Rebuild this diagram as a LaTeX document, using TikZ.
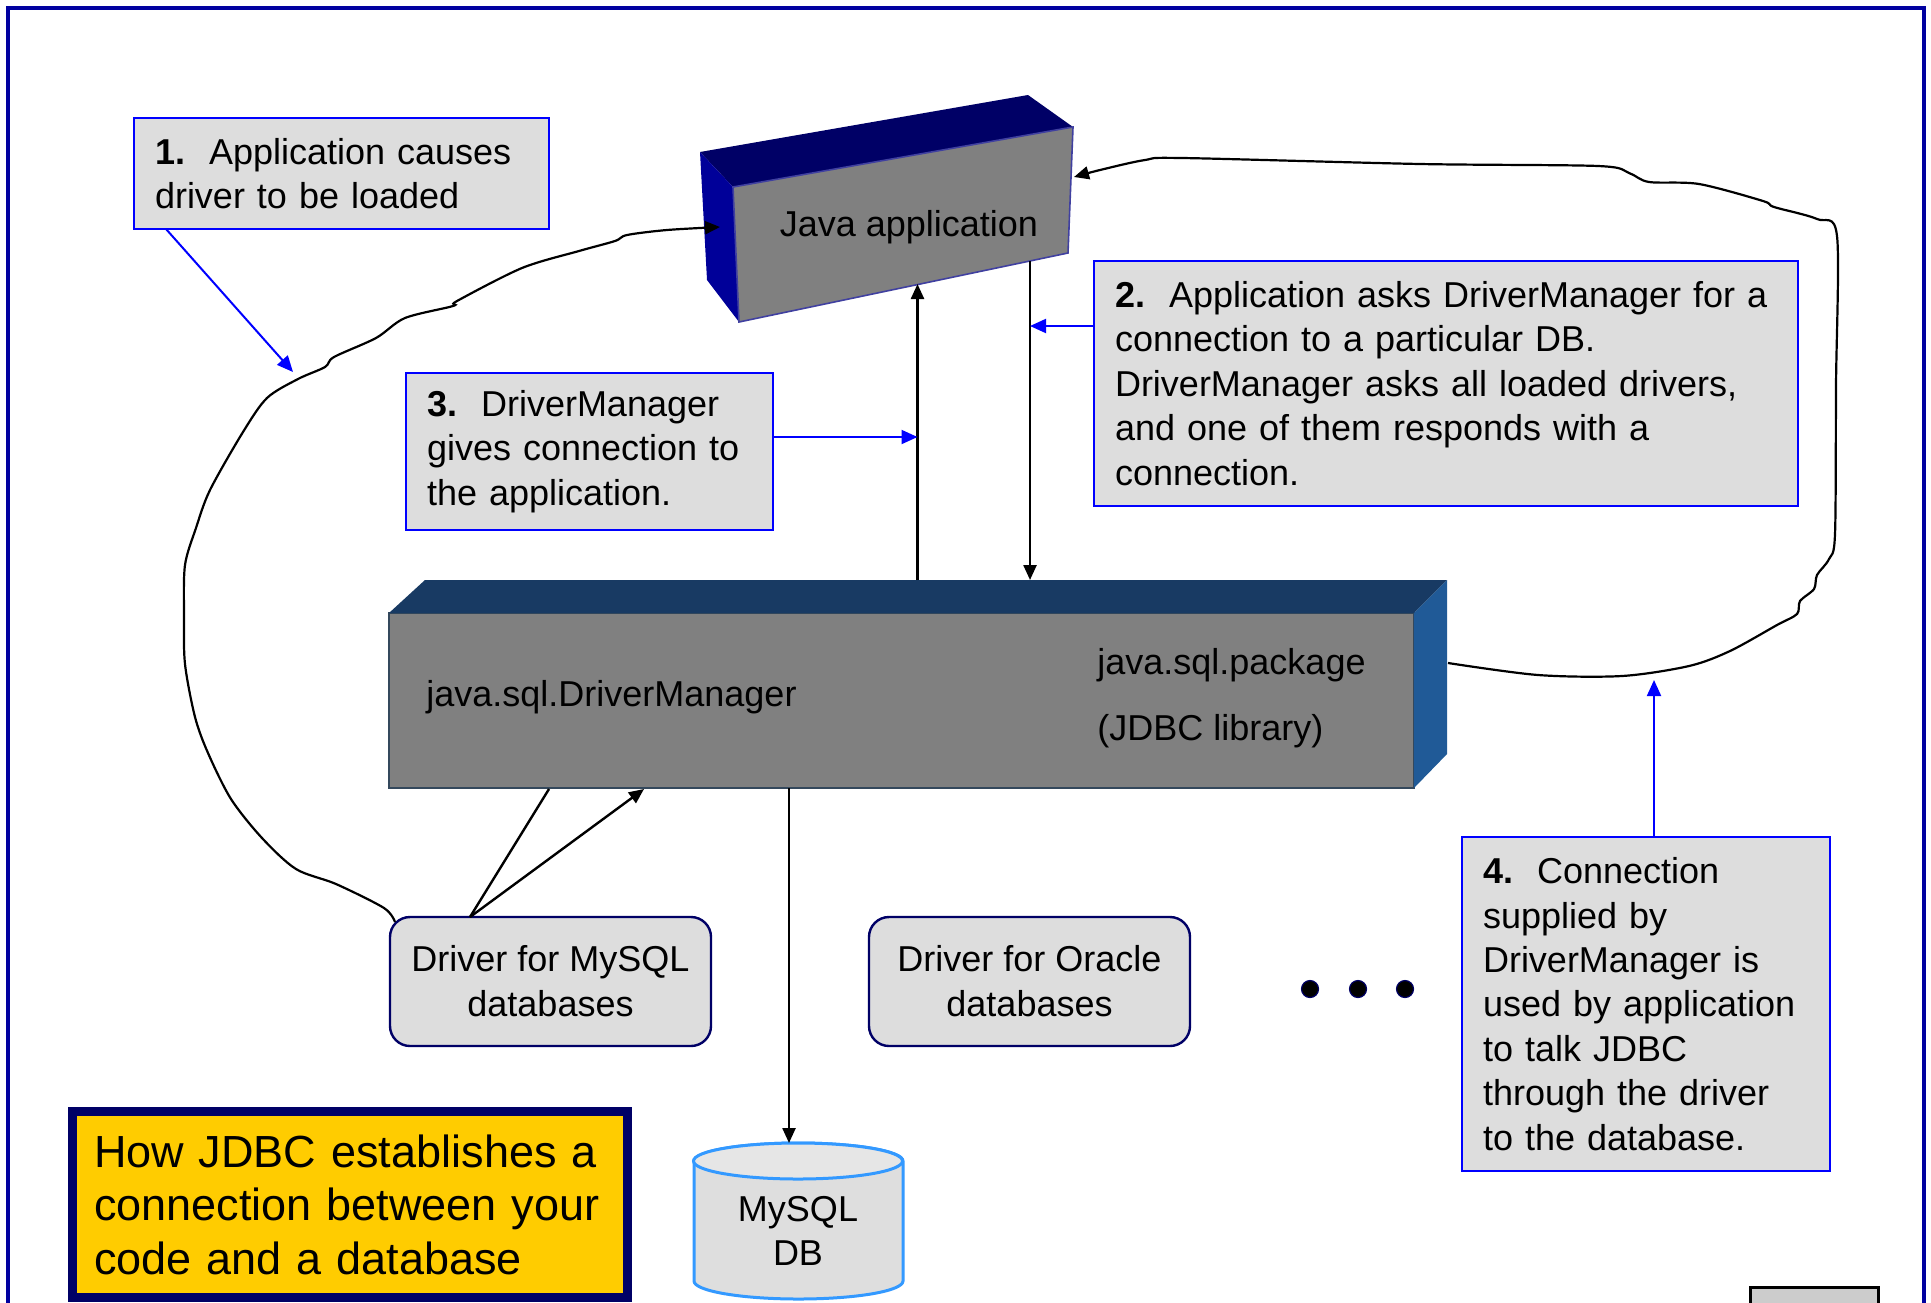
\documentclass[tikz,border=0pt]{standalone}
\usepackage{fontspec}
\setmainfont{Liberation Sans}
\usetikzlibrary{arrows.meta}
\definecolor{framenavy}{HTML}{0000A0}
\definecolor{boxgray}{HTML}{DDDDDD}
\definecolor{stepblue}{HTML}{0000FF}
\definecolor{drvnavy}{HTML}{000066}
\definecolor{appside}{HTML}{000099}
\definecolor{appedge}{HTML}{4040A0}
\definecolor{facegray}{HTML}{808080}
\definecolor{dmtop}{HTML}{183A63}
\definecolor{dmside}{HTML}{205A97}
\definecolor{dmedge}{HTML}{34485C}
\definecolor{titleyellow}{HTML}{FFCC00}
\definecolor{dbblue}{HTML}{3399FF}
\definecolor{dbfill}{HTML}{DEDEDE}
\definecolor{dbtopfill}{HTML}{E6E6E6}
\begin{document}
\begin{tikzpicture}[x=0.5pt,y=-0.5pt,
    stepbox/.style={draw=stepblue,line width=1pt,fill=boxgray,anchor=north west,outer sep=0pt,
      inner xsep=10.5pt,inner ysep=0pt,align=left,font=\fontsize{18}{22.2}\selectfont},
    drvbox/.style={draw=drvnavy,line width=1.2pt,fill=boxgray,rounded corners=10pt,outer sep=0pt,
      anchor=north west,minimum width=160.5pt,minimum height=64.5pt,align=center,
      font=\fontsize{18}{22.4}\selectfont},
    label18/.style={font=\fontsize{18}{22}\selectfont,inner sep=0pt},
    bluearrow/.style={draw=stepblue,line width=1pt,-{Triangle[length=8pt,width=7pt]}},
    blackarrow/.style={line width=1.2pt,-{Triangle[length=7.5pt,width=6.5pt]}},
    freeline/.style={line width=1.1pt,-{Triangle[length=7.5pt,width=6.5pt]}},
    dotnode/.style={circle,fill=black,draw=drvnavy,line width=0.6pt,minimum size=8.5pt,inner sep=0pt}]
  \useasboundingbox (0,0) rectangle (1931,1302);
  \clip (0,0) rectangle (1931,1302);
  \fill[white] (0,0) rectangle (1931,1302);
  \draw[framenavy,line width=2pt] (8,1320) -- (8,8) -- (1924,8) -- (1924,1320);

  % Java application
  \coordinate (jfl) at (733,187);
  \coordinate (jfr) at (1073,127);
  \coordinate (jbr) at (1068,253);
  \coordinate (jbl) at (739,322);
  \coordinate (jtl) at (700,152);
  \coordinate (jtr) at (1028,95);
  \coordinate (jlb) at (707,280);
  \fill[drvnavy] (jtl) -- (jtr) -- (jfr) -- (jfl) -- cycle;
  \fill[appside] (jtl) -- (jfl) -- (jbl) -- (jlb) -- cycle;
  \filldraw[fill=facegray,draw=appedge,line width=0.8pt] (jfl) -- (jfr) -- (jbr) -- (jbl) -- cycle;
  \node[label18] (japp) at (909,227) {Java application};

  % JDBC library
  \node[draw=dmedge,line width=1pt,fill=facegray,anchor=north west,outer sep=0pt,
    minimum width=512.5pt,minimum height=87.5pt] (dm) at (389,613) {};
  \fill[dmtop] (dm.north west) -- (425,580) -- (1447,580) -- (dm.north east) -- cycle;
  \fill[dmside] (dm.north east) -- (1447,580) -- (1447,754) -- (dm.south east) -- cycle;
  \node[label18,anchor=west] (dmname) at (426,697) {java.sql.DriverManager};
  \node[label18,anchor=west] (pkg) at (1097,665) {java.sql.package};
  \node[label18,anchor=west] (lib) at (1097,731) {(JDBC library)};

  % steps
  \node[stepbox,text width=186.5pt,minimum height=55.5pt] (step1) at (134,118)
    {\textbf{1.}\ \ Application causes\\driver to be loaded};
  \node[stepbox,text width=331pt,minimum height=122.5pt] (step2) at (1094,261)
    {\textbf{2.}\ \ Application asks DriverManager for a\\connection to a particular DB.\\
     DriverManager asks all loaded drivers,\\and one of them responds with a\\connection.};
  \node[stepbox,text width=162.5pt,minimum height=78.5pt] (step3) at (406,373)
    {\textbf{3.}\ \ DriverManager\\gives connection to\\the application.};
  \node[stepbox,text width=163pt,minimum height=167pt] (step4) at (1462,837)
    {\textbf{4.}\ \ Connection\\supplied by\\DriverManager is\\used by application\\
     to talk JDBC\\through the driver\\to the database.};

  % drivers
  \node[drvbox] (mysql) at (390,917) {Driver for MySQL\\databases};
  \node[drvbox] (oracle) at (869,917) {Driver for Oracle\\databases};
  \foreach \x/\n in {1310/1,1358/2,1405/3}
    \node[dotnode] (dot\n) at (\x,989) {};

  % database
  \filldraw[fill=dbfill,draw=dbblue,line width=1.5pt] (694,1161) -- (694,1281)
    arc[start angle=180,end angle=360,x radius=52.25pt,y radius=9pt] -- (903,1161)
    arc[start angle=0,end angle=180,x radius=52.25pt,y radius=9pt] -- cycle;
  \filldraw[fill=dbtopfill,draw=dbblue,line width=1.5pt] (798,1161) ellipse[x radius=52.25pt,y radius=9pt];
  \node[label18,align=center,font=\fontsize{18}{22.4}\selectfont] (db) at (798,1231) {MySQL\\DB};

  % title
  \node[draw=drvnavy,line width=4.5pt,fill=titleyellow,anchor=north west,outer sep=0pt,
    minimum width=277.5pt,minimum height=93pt,inner xsep=10.75pt,text width=256pt,
    align=left,font=\fontsize{22.5}{26.8}\selectfont] (title) at (72.5,1111.5)
    {How JDBC establishes a\\connection between your\\code and a database};
  \draw[fill=black!20,line width=1.5pt] (1750,1287) rectangle (1878,1330);

  % connectors
  \coordinate (upbot) at (917.5,580);
  \coordinate (uptop) at (917.5,284);
  \coordinate (dntop) at (1030,261);
  \coordinate (dnbot) at (1030,580);
  \draw[blackarrow] (upbot) -- (uptop);
  \draw[blackarrow] (dntop) -- (dnbot);
  \coordinate (drvtop) at (470,917);
  \coordinate (dmin) at (549,789);
  \coordinate (dmout) at (644,789);
  \draw[line width=1.2pt] (drvtop) -- (dmin);
  \draw[blackarrow] (drvtop) -- (dmout);
  \coordinate (dbin) at (789,1143);
  \draw[blackarrow] (dm.south -| dbin) -- (dbin);

  \coordinate (c1a) at (166,229);
  \coordinate (c1) at (293,372);
  \draw[bluearrow] (c1a) -- (c1);
  \coordinate (c2) at (1030,326);
  \draw[bluearrow] (step2.west |- c2) -- (c2);
  \coordinate (c3) at (917.5,437);
  \draw[bluearrow] (step3.east |- c3) -- (c3);
  \coordinate (c4) at (1654,680);
  \draw[bluearrow] (step4.north -| c4) -- (c4);

  % hand drawn loops
  \coordinate (loopa) at (395,922);
  \coordinate (loopb) at (720,227);
  \draw[freeline] plot[smooth,tension=0.5] coordinates {(loopa) (384,908) (336,884) (296,869)
    (262,838) (231,799) (208,753) (195,717) (185,664) (184,615) (185,565) (196,528)
    (210,490) (243,432) (267,398) (298,379) (325,367) (334,357) (376,338) (405,318)
    (453,306) (457,301) (522,268) (579,251) (615,241) (627,235) (667,230) (loopb)};
  \coordinate (loopc) at (1448,663);
  \coordinate (loopd) at (1074,177);
  \draw[freeline] plot[smooth,tension=0.5] coordinates {(loopc) (1538,675) (1622,676)
    (1689,666) (1730,651) (1777,625) (1797,614) (1800,601) (1814,589) (1817,575)
    (1829,559) (1835,534) (1836,385) (1837,236) (1817,219) (1774,207) (1763,201)
    (1699,184) (1649,182) (1629,173) (1598,166) (1420,164) (1182,158) (1145,160)
    (1100,170) (loopd)};
\end{tikzpicture}
\end{document}
